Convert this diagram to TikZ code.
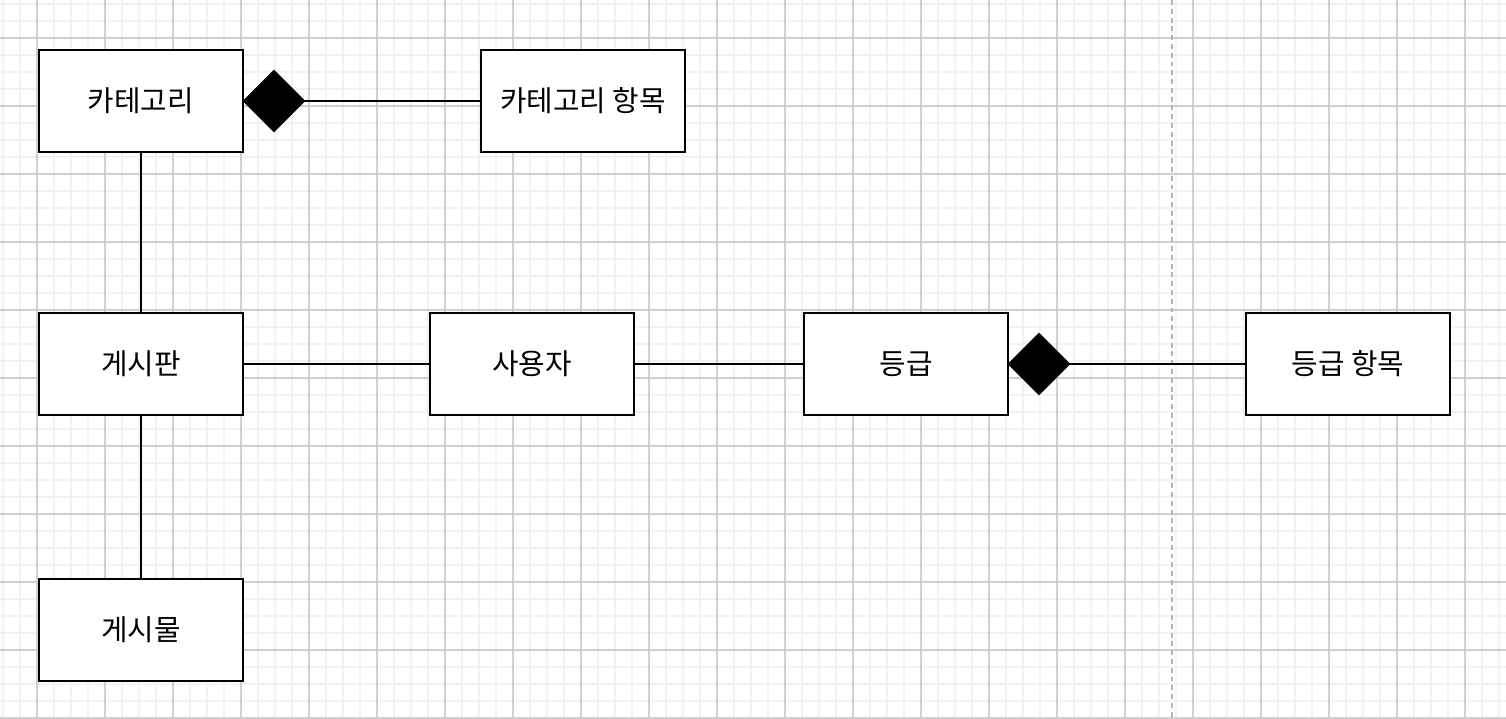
\documentclass[tikz,border=0pt]{standalone}
\usepackage{fontspec}
\setmainfont{Noto Sans CJK KR}
\usetikzlibrary{shapes.geometric}
\definecolor{gridminor}{HTML}{F2F2F2}
\definecolor{gridmajor}{HTML}{CFCFCF}
\definecolor{splitgray}{HTML}{B4B4B4}

\begin{document}
\begin{tikzpicture}[entity/.style={rectangle, draw, line width=0.5pt, fill=white, minimum width=2.04cm, minimum height=1.02cm, inner sep=0pt, font=\fontsize{8.2}{10}\selectfont},
    comp/.style={diamond, fill=black, minimum width=0.62cm, minimum height=0.62cm, inner sep=0pt, outer sep=-0.3pt},
    link/.style={line width=0.55pt}]
    \useasboundingbox (0,0) rectangle (15.06,-7.18);
    \fill[white] (0,0) rectangle (15.06,-7.18);
    \begin{scope}
        \clip (0,0) rectangle (15.06,-7.18);
        \begin{scope}[shift={(0.37,-0.38)}]
            \draw[gridminor, line width=0.45pt, step=0.17] (-0.68,0.68) grid (15.0,-7.48);
            \draw[gridmajor, line width=0.3pt, step=0.68] (-0.68,0.68) grid (15.0,-7.48);
        \end{scope}
    \end{scope}
    \draw[splitgray, line width=0.7pt, dash pattern=on 1.4pt off 1.1pt] (11.72,0) -- (11.72,-7.18);

    \node[entity] (cat) at (1.41,-1.01) {카테고리};
    \node[entity] (catitem) at (5.83,-1.01) {카테고리 항목};
    \node[entity] (board) at (1.41,-3.64) {게시판};
    \node[entity] (user) at (5.32,-3.64) {사용자};
    \node[entity] (grade) at (9.06,-3.64) {등급};
    \node[entity] (gradeitem) at (13.48,-3.64) {등급 항목};
    \node[entity] (post) at (1.41,-6.30) {게시물};
    \node[comp] (catdia) at (2.74,-1.01) {};
    \node[comp] (gradedia) at (10.39,-3.64) {};

        \draw[link] (catdia) -- (catitem);
        \draw[link] (gradedia) -- (gradeitem);
        \draw[link] (cat) -- (board) -- (post);
        \draw[link] (board) -- (user) -- (grade);
\end{tikzpicture}
\end{document}
